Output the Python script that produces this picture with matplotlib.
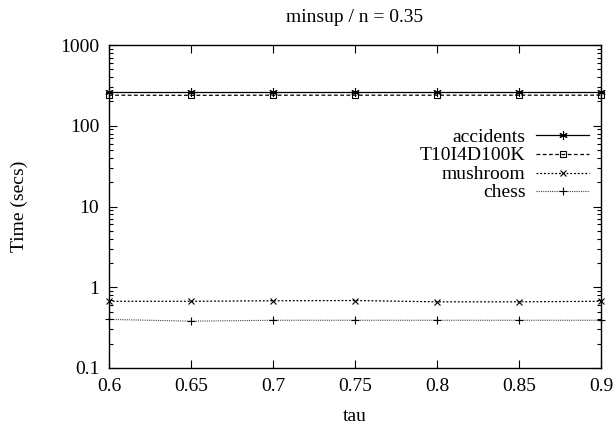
import matplotlib
matplotlib.use("Agg")
import matplotlib.pyplot as plt
from matplotlib.ticker import LogLocator, NullFormatter, FixedLocator

plt.rcParams['font.family'] = ['Liberation Serif', 'DejaVu Serif']
plt.rcParams['mathtext.fontset'] = 'stix'

tau = [0.6, 0.65, 0.7, 0.75, 0.8, 0.85, 0.9]
accidents = [262, 262, 262, 262, 262, 262, 262]
t10 = [239, 238, 239, 239, 239, 239, 239]
mushroom = [0.67, 0.67, 0.68, 0.685, 0.66, 0.66, 0.67]
chess = [0.40, 0.38, 0.39, 0.39, 0.39, 0.39, 0.39]
xticks = [0.6, 0.65, 0.7, 0.75, 0.8, 0.85, 0.9]
xticklabels = ["0.6", "0.65", "0.7", "0.75", "0.8", "0.85", "0.9"]
yticks = [0.1, 1, 10, 100, 1000]
yticklabels = ["0.1", "1", "10", "100", "1000"]

FS = 14
fig = plt.figure(figsize=(6.16, 4.28), dpi=100)
L, R, T, B = 109, 601, 45, 368
ax = fig.add_axes([L/616, 1 - B/428, (R-L)/616, (B-T)/428])

ax.plot(tau, accidents, color='black', lw=0.9, linestyle='-', marker=(6, 2, 0), ms=6, mew=0.8, label='accidents', clip_on=False)
ax.plot(tau, t10, color='black', lw=0.9, linestyle=(0, (3, 2)), marker='s', ms=5, mfc='none', mew=0.8, label='T10I4D100K', clip_on=False)
ax.plot(tau, mushroom, color='black', lw=0.9, linestyle=(0, (1.5, 1.5)), marker='x', ms=5, mew=0.8, label='mushroom', clip_on=False)
ax.plot(tau, chess, color='#444444', lw=0.8, linestyle=(0, (1, 1)), marker='+', ms=6, mew=0.8, mec='black', label='chess', clip_on=False)

ax.set_yscale('log')
ax.set_xlim(0.6, 0.9)
ax.set_ylim(0.1, 1000)
ax.xaxis.set_major_locator(FixedLocator(xticks))
ax.set_xticklabels(xticklabels)
ax.yaxis.set_major_locator(FixedLocator(yticks))
ax.set_yticklabels(yticklabels)
ax.yaxis.set_minor_locator(LogLocator(base=10, subs=range(2, 10)))
ax.yaxis.set_minor_formatter(NullFormatter())
ax.tick_params(which='both', direction='in', top=True, right=True, labelsize=FS, width=0.8)
ax.tick_params(which='major', length=6, pad=7)
ax.tick_params(which='minor', length=3)
for s in ax.spines.values():
    s.set_linewidth(1.0)

ax.set_title('minsup / n = 0.35', fontsize=FS, pad=16.5)
ax.set_xlabel('tau', fontsize=FS)
ax.xaxis.set_label_coords(0.5, (B - 408) / (B - T))
ax.set_ylabel('Time (secs)', fontsize=FS)
ax.yaxis.set_label_coords((28 - L) / (R - L), 0.5)

leg = ax.legend(loc='upper right', bbox_to_anchor=(0.991, 0.765), frameon=False, fontsize=FS,
                markerfirst=False, handlelength=2.7, handletextpad=0.55, labelspacing=0.08,
                borderaxespad=0)
for t in leg.get_texts():
    t.set_ha('right')
leg._legend_box.align = 'right'
for vp in leg._legend_handle_box.get_children():
    for hp in vp.get_children():
        hp.align = 'right'

fig.savefig('out.png', dpi=100)
